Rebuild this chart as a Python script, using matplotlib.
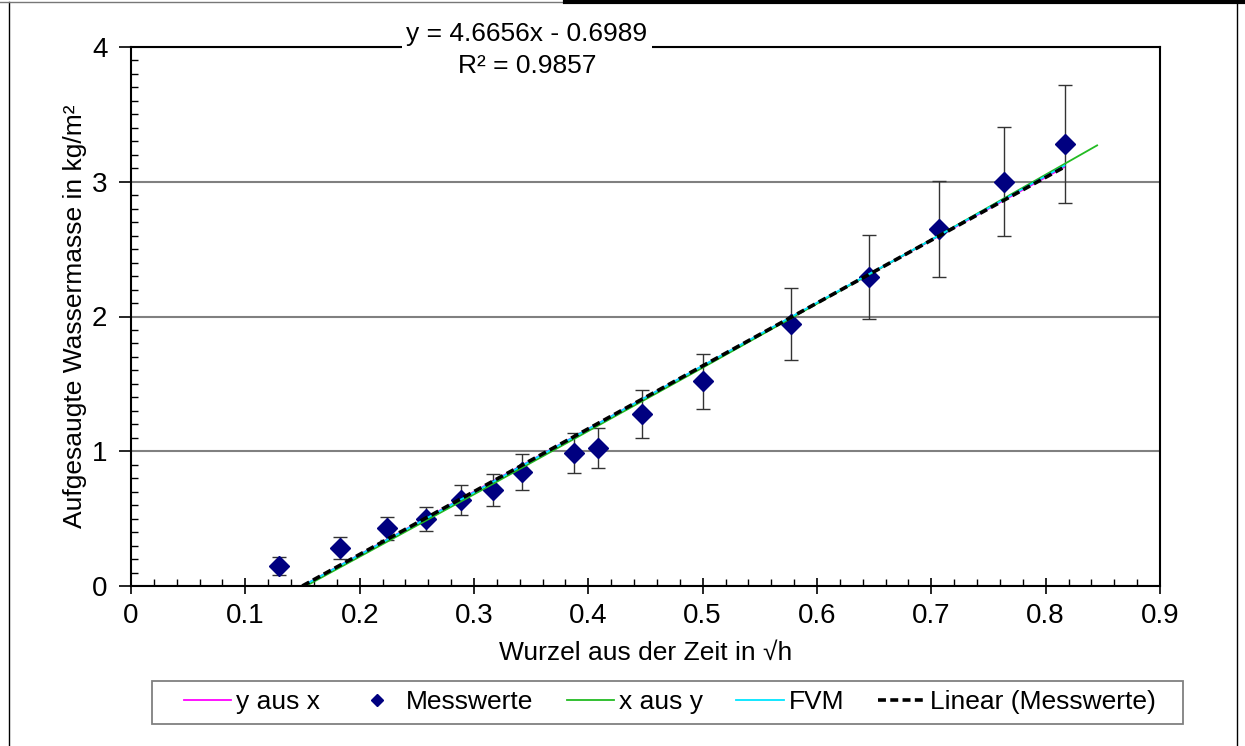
import numpy as np
import matplotlib.pyplot as plt
from matplotlib.lines import Line2D
from matplotlib.patches import Rectangle
from matplotlib.ticker import MultipleLocator

plt.rcParams['font.family'] = ['Liberation Sans', 'DejaVu Sans']

# Messwerte: Wurzel aus der Zeit (sqrt h), Wassermasse (kg/m2), Fehler
wurzel_t = [0.1291, 0.1826, 0.2236, 0.2582, 0.2887, 0.3162, 0.3416, 0.3873,
            0.4082, 0.4472, 0.5000, 0.5774, 0.6455, 0.7071, 0.7638, 0.8165]
masse = [0.148, 0.282, 0.430, 0.497, 0.638, 0.712, 0.846, 0.987,
         1.024, 1.276, 1.520, 1.944, 2.293, 2.650, 3.000, 3.280]
fehler = [0.065, 0.080, 0.085, 0.090, 0.110, 0.120, 0.130, 0.145,
          0.150, 0.180, 0.205, 0.265, 0.310, 0.355, 0.405, 0.440]

# Linien
yx_x = [0.150, 0.8165]
yx_y = [0.000, 3.110]
xy_x = [0.153, 0.300, 0.500, 0.700, 0.845]
xy_y = [0.000, 0.680, 1.620, 2.570, 3.270]
fvm_x = [0.150, 0.300, 0.500, 0.700, 0.8165]
fvm_y = [0.000, 0.695, 1.635, 2.570, 3.120]
lin_x = [0.1498, 0.8165]
lin_y = [0.000, 3.110]

x_ticklabels = ['0', '0.1', '0.2', '0.3', '0.4', '0.5', '0.6', '0.7', '0.8', '0.9']

W, H = 1245, 746
fig = plt.figure(figsize=(W/100, H/100), dpi=100)
ax = fig.add_axes([131/W, 1-586/H, (1160-131)/W, (586-47)/H])

ax.plot(yx_x, yx_y, color='#ff00ff', lw=1.3, label='y aus x')
ax.errorbar(wurzel_t, masse, yerr=fehler, fmt='none', ecolor='#333333',
            elinewidth=1.0, capsize=5, capthick=1.0)
ax.plot(wurzel_t, masse, 'D', color='#000080', ms=10, ls='none', label='Messwerte')
ax.plot(xy_x, xy_y, color='#22bb22', lw=1.3, label='x aus y')
ax.plot(fvm_x, fvm_y, color='#00e5ff', lw=1.3, label='FVM')
ax.plot(lin_x, lin_y, color='black', lw=2.6, ls=(0, (2.2, 1.2)), label='Linear (Messwerte)')

ax.set_xlim(0, 0.9)
ax.set_ylim(0, 4)
ax.set_xticks(np.arange(0, 0.91, 0.1))
ax.set_xticklabels(x_ticklabels)
ax.xaxis.set_minor_locator(MultipleLocator(0.02))
ax.yaxis.set_major_locator(MultipleLocator(1))
ax.yaxis.set_minor_locator(MultipleLocator(0.1))
ax.tick_params(axis='x', which='major', direction='inout', length=12, width=1.2, labelsize=20, pad=6)
ax.tick_params(axis='x', which='minor', direction='in', length=5, width=1)
ax.tick_params(axis='y', which='major', direction='out', length=9, width=1.2, labelsize=20, pad=8)
ax.tick_params(axis='y', which='minor', direction='in', length=5, width=1)
ax.grid(axis='y', which='major', color='#808080', lw=1.5)
for s in ax.spines.values():
    s.set_linewidth(1.5)

ax.set_xlabel('Wurzel aus der Zeit in \u221ah', fontsize=19)
ax.set_ylabel('Aufgesaugte Wassermasse in kg/m\u00b2', fontsize=19)
ax.xaxis.set_label_coords(0.5, -(641-586)/539)
ax.yaxis.set_label_coords(-(131-87)/1029, 0.5)

ax.text(527/W, 1-50/H, 'y = 4.6656x - 0.6989\nR\u00b2 = 0.9857', transform=fig.transFigure,
        ha='center', va='center', fontsize=19, linespacing=1.45,
        bbox=dict(facecolor='white', edgecolor='none', pad=3))

# Legende mit eigenem Rahmen
fig.add_artist(Rectangle((152/W, 1-724/H), (1183-152)/W, 43/H, transform=fig.transFigure,
                         facecolor='white', edgecolor='#808080', lw=1.3))
leg = fig.legend(loc='center', ncol=5, fontsize=19, bbox_to_anchor=(670/W, 1-702/H),
                 frameon=False, handlelength=1.8, handletextpad=0.2,
                 columnspacing=1.25, markerscale=0.65, borderpad=0.2)
leg.set_zorder(5)

# Rahmen
fig.add_artist(Line2D([9/W, 9/W], [0, 1-2/H], transform=fig.transFigure, color='black', lw=1))
fig.add_artist(Line2D([1237/W, 1237/W], [0, 1-2/H], transform=fig.transFigure, color='black', lw=1))
fig.add_artist(Line2D([0, 565/W], [1-1.5/H, 1-1.5/H], transform=fig.transFigure, color='#777777', lw=1))
fig.add_artist(Line2D([565/W, 1], [1-1.5/H, 1-1.5/H], transform=fig.transFigure, color='black', lw=3))

fig.savefig('out.png', dpi=100)
